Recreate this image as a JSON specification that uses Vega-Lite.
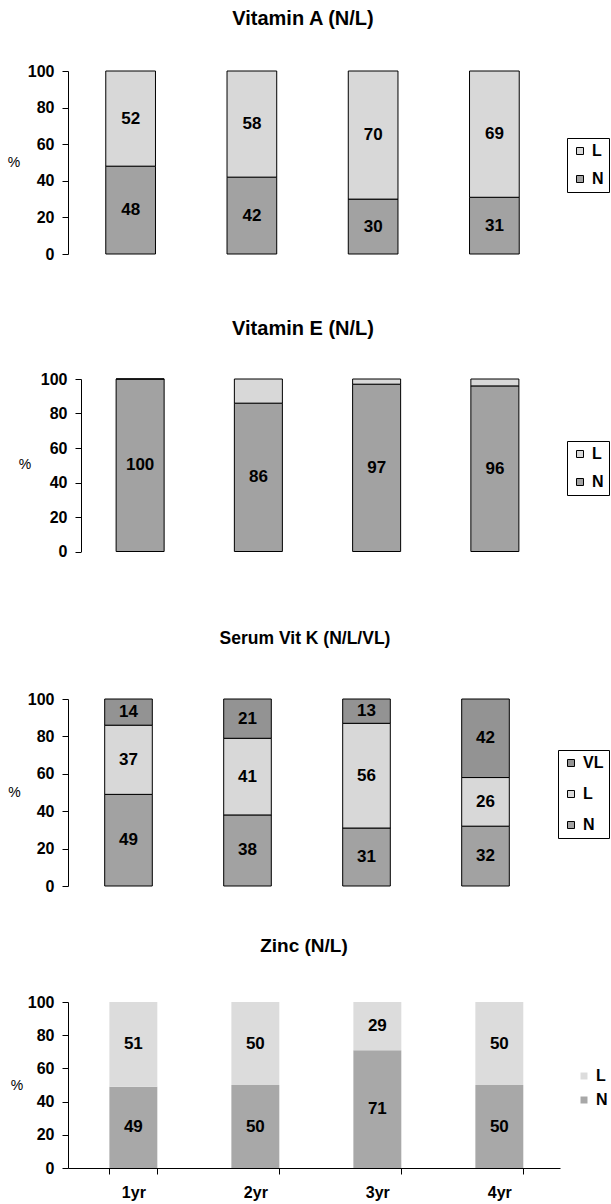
{
  "$schema": "https://vega.github.io/schema/vega-lite/v6.json",
  "padding": {"left": 7, "top": 9, "right": 0, "bottom": 5},
  "background": "white",
  "datasets": {
    "d": [
      {"panel": "A", "year": "1yr", "level": "N", "value": 48},
      {"panel": "A", "year": "1yr", "level": "L", "value": 52},
      {"panel": "A", "year": "2yr", "level": "N", "value": 42},
      {"panel": "A", "year": "2yr", "level": "L", "value": 58},
      {"panel": "A", "year": "3yr", "level": "N", "value": 30},
      {"panel": "A", "year": "3yr", "level": "L", "value": 70},
      {"panel": "A", "year": "4yr", "level": "N", "value": 31},
      {"panel": "A", "year": "4yr", "level": "L", "value": 69},
      {"panel": "E", "year": "1yr", "level": "N", "value": 100},
      {"panel": "E", "year": "1yr", "level": "L", "value": 0},
      {"panel": "E", "year": "2yr", "level": "N", "value": 86},
      {"panel": "E", "year": "2yr", "level": "L", "value": 14},
      {"panel": "E", "year": "3yr", "level": "N", "value": 97},
      {"panel": "E", "year": "3yr", "level": "L", "value": 3},
      {"panel": "E", "year": "4yr", "level": "N", "value": 96},
      {"panel": "E", "year": "4yr", "level": "L", "value": 4},
      {"panel": "K", "year": "1yr", "level": "N", "value": 49},
      {"panel": "K", "year": "1yr", "level": "L", "value": 37},
      {"panel": "K", "year": "1yr", "level": "VL", "value": 14},
      {"panel": "K", "year": "2yr", "level": "N", "value": 38},
      {"panel": "K", "year": "2yr", "level": "L", "value": 41},
      {"panel": "K", "year": "2yr", "level": "VL", "value": 21},
      {"panel": "K", "year": "3yr", "level": "N", "value": 31},
      {"panel": "K", "year": "3yr", "level": "L", "value": 56},
      {"panel": "K", "year": "3yr", "level": "VL", "value": 13},
      {"panel": "K", "year": "4yr", "level": "N", "value": 32},
      {"panel": "K", "year": "4yr", "level": "L", "value": 26},
      {"panel": "K", "year": "4yr", "level": "VL", "value": 42},
      {"panel": "Z", "year": "1yr", "level": "N", "value": 49},
      {"panel": "Z", "year": "1yr", "level": "L", "value": 51},
      {"panel": "Z", "year": "2yr", "level": "N", "value": 50},
      {"panel": "Z", "year": "2yr", "level": "L", "value": 50},
      {"panel": "Z", "year": "3yr", "level": "N", "value": 71},
      {"panel": "Z", "year": "3yr", "level": "L", "value": 29},
      {"panel": "Z", "year": "4yr", "level": "N", "value": 50},
      {"panel": "Z", "year": "4yr", "level": "L", "value": 50}
    ]
  },
  "config": {
    "font": "Liberation Sans",
    "view": {"stroke": null},
    "axis": {
      "grid": false, "domainColor": "black", "tickColor": "black", "labelColor": "black",
      "labelFont": "Liberation Sans", "labelFontWeight": "bold", "labelFontSize": 16,
      "tickSize": 6, "labelPadding": 8, "titleColor": "black", "titleFont": "Liberation Sans", "labelOverlap": false
    },
    "legend": {
      "labelFont": "Liberation Sans", "labelFontWeight": "bold", "labelFontSize": 16, "labelColor": "black",
      "symbolType": "square", "symbolSize": 49, "symbolStrokeWidth": 1, "labelOffset": 4
    },
    "title": {"font": "Liberation Sans", "fontWeight": "bold", "fontSize": 19, "color": "black", "anchor": "middle"}
  },
  "bounds": "flush",
  "spacing": 0,
  "resolve": {"scale": {"x": "independent", "y": "independent", "color": "independent"}, "legend": {"color": "independent"}},
  "vconcat": [
    {
      "width": 490, "height": 308,
      "title": {"text": "Vitamin A (N/L)", "offset": 34, "fontSize": 20, "dx": -10},
      "data": {"name": "d"},
      "transform": [
        {"filter": "datum.panel == 'A'"},
        {"calculate": "indexof(['N','L','VL'], datum.level)", "as": "ord"},
        {"stack": "value", "groupby": ["year"], "sort": [{"field": "ord", "order": "ascending"}], "as": ["v0", "v1"]},
        {"calculate": "(datum.v0 + datum.v1) / 2", "as": "mid"}
      ],
      "layer": [
        {
          "mark": {"type": "bar", "stroke": "black", "strokeWidth": 1},
          "encoding": {
            "x": {"field": "year", "type": "nominal", "scale": {"range": [2, 487], "paddingInner": 0.59, "paddingOuter": 0.295}, "axis": null},
            "y": {"field": "v0", "type": "quantitative", "scale": {"domain": [0, 100], "range": [183, 0], "nice": false},
                  "axis": {"title": "%", "titleAngle": 0, "titleX": -54.5, "titleY": 91.5, "titleAlign": "center", "titleBaseline": "middle", "titleFontSize": 14, "titleFontWeight": "normal", "values": [0, 20, 40, 60, 80, 100]}},
            "y2": {"field": "v1"},
            "color": {"field": "level", "type": "nominal", "scale": {"domain": ["L", "N"], "range": ["#d8d8d8", "#a2a2a2"]},
                      "legend": {"title": null, "orient": "none", "legendX": 499, "legendY": 67, "strokeColor": "black", "fillColor": "white", "padding": 5, "rowPadding": 12, "symbolStrokeColor": "black"}}
          }
        },
        {
          "mark": {"type": "text", "fontSize": 17, "fontWeight": "bold", "color": "black"},
          "encoding": {
            "x": {"field": "year", "type": "nominal"},
            "y": {"field": "mid", "type": "quantitative"},
            "text": {"field": "value", "type": "quantitative"}
          }
        }
      ]
    },
    {
      "width": 490, "height": 319.5,
      "title": {"text": "Vitamin E (N/L)", "offset": 32, "fontSize": 20, "dx": -10},
      "data": {"name": "d"},
      "transform": [
        {"filter": "datum.panel == 'E'"},
        {"calculate": "indexof(['N','L','VL'], datum.level)", "as": "ord"},
        {"stack": "value", "groupby": ["year"], "sort": [{"field": "ord", "order": "ascending"}], "as": ["v0", "v1"]},
        {"calculate": "(datum.v0 + datum.v1) / 2", "as": "mid"}
      ],
      "layer": [
        {
          "mark": {"type": "bar", "stroke": "black", "strokeWidth": 1},
          "encoding": {
            "x": {"field": "year", "type": "nominal", "scale": {"range": [13, 486], "paddingInner": 0.594, "paddingOuter": 0.297}, "axis": null},
            "y": {"field": "v0", "type": "quantitative", "scale": {"domain": [0, 100], "range": [172.5, 0], "nice": false},
                  "axis": {"offset": -13, "title": "%", "titleAngle": 0, "titleX": -56.5, "titleY": 85, "titleAlign": "center", "titleBaseline": "middle", "titleFontSize": 14, "titleFontWeight": "normal", "values": [0, 20, 40, 60, 80, 100]}},
            "y2": {"field": "v1"},
            "color": {"field": "level", "type": "nominal", "scale": {"domain": ["L", "N"], "range": ["#d8d8d8", "#a2a2a2"]},
                      "legend": {"title": null, "orient": "none", "legendX": 499, "legendY": 62, "strokeColor": "black", "fillColor": "white", "padding": 5, "rowPadding": 12, "symbolStrokeColor": "black"}}
          }
        },
        {
          "transform": [{"filter": "datum.level == 'N'"}],
          "mark": {"type": "text", "fontSize": 17, "fontWeight": "bold", "color": "black"},
          "encoding": {
            "x": {"field": "year", "type": "nominal"},
            "y": {"field": "mid", "type": "quantitative"},
            "text": {"field": "value", "type": "quantitative"}
          }
        }
      ]
    },
    {
      "width": 490, "height": 303,
      "title": {"text": "Serum Vit K (N/L/VL)", "offset": 44, "fontSize": 17.5, "dx": -8},
      "data": {"name": "d"},
      "transform": [
        {"filter": "datum.panel == 'K'"},
        {"calculate": "indexof(['N','L','VL'], datum.level)", "as": "ord"},
        {"stack": "value", "groupby": ["year"], "sort": [{"field": "ord", "order": "ascending"}], "as": ["v0", "v1"]},
        {"calculate": "(datum.v0 + datum.v1) / 2", "as": "mid"}
      ],
      "layer": [
        {
          "mark": {"type": "bar", "stroke": "black", "strokeWidth": 1},
          "encoding": {
            "x": {"field": "year", "type": "nominal", "scale": {"range": [1, 477], "paddingInner": 0.6, "paddingOuter": 0.3}, "axis": null},
            "y": {"field": "v0", "type": "quantitative", "scale": {"domain": [0, 100], "range": [187, 0], "nice": false},
                  "axis": {"title": "%", "titleAngle": 0, "titleX": -54, "titleY": 93.5, "titleAlign": "center", "titleBaseline": "middle", "titleFontSize": 14, "titleFontWeight": "normal", "values": [0, 20, 40, 60, 80, 100]}},
            "y2": {"field": "v1"},
            "color": {"field": "level", "type": "nominal", "scale": {"domain": ["VL", "L", "N"], "range": ["#939393", "#d8d8d8", "#a2a2a2"]},
                      "legend": {"title": null, "orient": "none", "legendX": 490, "legendY": 51, "strokeColor": "black", "fillColor": "white", "padding": 5, "rowPadding": 15, "symbolStrokeColor": "black"}}
          }
        },
        {
          "mark": {"type": "text", "fontSize": 17, "fontWeight": "bold", "color": "black"},
          "encoding": {
            "x": {"field": "year", "type": "nominal"},
            "y": {"field": "mid", "type": "quantitative"},
            "text": {"field": "value", "type": "quantitative"}
          }
        }
      ]
    },
    {
      "width": 492, "height": 166,
      "title": {"text": "Zinc (N/L)", "offset": 38, "dx": -10},
      "data": {"name": "d"},
      "transform": [
        {"filter": "datum.panel == 'Z'"},
        {"calculate": "indexof(['N','L','VL'], datum.level)", "as": "ord"},
        {"stack": "value", "groupby": ["year"], "sort": [{"field": "ord", "order": "ascending"}], "as": ["v0", "v1"]},
        {"calculate": "(datum.v0 + datum.v1) / 2", "as": "mid"}
      ],
      "layer": [
        {
          "mark": {"type": "bar"},
          "encoding": {
            "x": {"field": "year", "type": "nominal", "scale": {"paddingInner": 0.607, "paddingOuter": 0.32, "align": 0.53},
                  "axis": {"title": null, "labelAngle": 0, "tickBand": "extent", "labelPadding": 10}},
            "y": {"field": "v0", "type": "quantitative", "scale": {"domain": [0, 100], "range": [166, 0], "nice": false},
                  "axis": {"title": "%", "titleAngle": 0, "titleX": -51.5, "titleY": 83, "titleAlign": "center", "titleBaseline": "middle", "titleFontSize": 14, "titleFontWeight": "normal", "values": [0, 20, 40, 60, 80, 100], "tickCount": 6}},
            "y2": {"field": "v1"},
            "color": {"field": "level", "type": "nominal", "scale": {"domain": ["L", "N"], "range": ["#dcdcdc", "#a8a8a8"]},
                      "legend": {"title": null, "orient": "none", "legendX": 508, "legendY": 66, "padding": 0, "rowPadding": 8}}
          }
        },
        {
          "mark": {"type": "text", "fontSize": 17, "fontWeight": "bold", "color": "black"},
          "encoding": {
            "x": {"field": "year", "type": "nominal"},
            "y": {"field": "mid", "type": "quantitative"},
            "text": {"field": "value", "type": "quantitative"}
          }
        }
      ]
    }
  ]
}
